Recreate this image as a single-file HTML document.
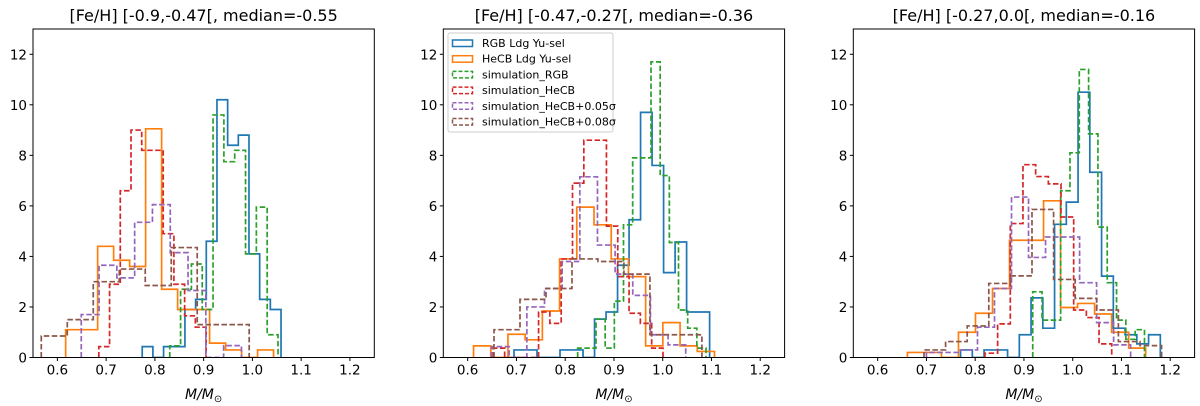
<!DOCTYPE html>
<html><head><meta charset="utf-8">
<style>
body{margin:0;background:#fff;}
svg{display:block;font-family:"DejaVu Sans","Liberation Sans",sans-serif;}
</style></head>
<body>
<svg id="chart" width="1200" height="406" viewBox="0 0 1200 406"></svg>
<script>
// ---- data ----
const titles = ["[Fe/H] [-0.9,-0.47[, median=-0.55","[Fe/H] [-0.47,-0.27[, median=-0.36","[Fe/H] [-0.27,0.0[, median=-0.16"];
const seriesNames = ["RGB Ldg Yu-sel","HeCB Ldg Yu-sel","simulation_RGB","simulation_HeCB","simulation_HeCB+0.05σ","simulation_HeCB+0.08σ"];
const xTicks = [0.6,0.7,0.8,0.9,1.0,1.1,1.2];
const yTicks = [0,2,4,6,8,10,12];
// per panel: bin start, bin width, counts
const p1Starts = [0.774,0.617,0.8305,0.685,0.649,0.567];
const p1Widths = [0.0219,0.0328,0.0222,0.022,0.0365,0.0533];
const p1Blue = [0.43,0,0.43,0.43,1.9,2.3,4.6,10.2,8.4,8.8,4.1,2.3,1.9];
const p1Orange = [1.1,1.1,4.4,3.85,3.6,9.05,2.7,1.9,1.9,0.57,0.3,0,0.3];
const p1Green = [0.46,2.7,3.7,1.9,9.6,7.75,8.2,4.1,5.95,0.9];
const p1Red = [0.43,2.9,6.6,9.0,8.2,8.2,4.9,2.9,1.65,1.2];
const p1Purple = [1.7,3.65,3.15,5.35,6.05,4.15,2.65,0,0.47];
const p1Brown = [0.85,1.5,3.0,3.5,2.85,4.35,1.3,1.3];
const p2Starts = [0.695,0.612,0.8256,0.6526,0.649,0.654];
const p2Widths = [0.0236,0.0353,0.0188,0.0232,0.0362,0.0533];
const p2Blue = [0.3,0.3,0,0,0.3,0.3,0,1.52,1.8,3.65,5.45,9.7,7.6,3.36,4.57,1.8,1.8];
const p2Orange = [0.46,0,0.92,0.7,1.84,3.9,5.95,5.25,3.9,3.2,0.46,1.38,0.46,0.24];
const p2Green = [0.37,0.37,1.52,0.37,2.23,5.25,7.9,7.9,11.7,7.2,4.55,1.88,1.16,0.37];
const p2Red = [0.37,0,0,0,1.8,1.35,3.9,6.9,8.6,8.6,5.2,3.2,1.75,1.35,0.37];
const p2Purple = [0.43,0,2.0,2.73,3.8,7.15,4.45,3.3,2.46,0.9,0.5];
const p2Brown = [1.1,2.3,2.73,3.9,3.8,3.3,0.9,0.9];
const p3Starts = [0.770,0.661,0.918,0.820,0.700,0.695];
const p3Widths = [0.0241,0.0349,0.0191,0.026,0.0349,0.0443];
const p3Blue = [0.3,0,0.3,0.3,0,0.9,2.36,1.16,5.27,6.15,10.5,7.33,3.22,1.16,0.9,0.54,0.9];
const p3Orange = [0.2,0.2,0,1.0,1.75,2.73,4.64,4.64,6.2,1.98,2.14,1.72,1.0,0.37];
const p3Green = [2.6,1.48,1.48,6.6,8.1,11.4,8.85,5.16,2.96,1.48,0.72,1.1];
const p3Red = [0.17,1.33,5.3,7.63,7.16,6.87,5.56,1.88,1.58,0.54];
const p3Purple = [0.2,0.2,0.3,1.2,2.73,6.35,3.96,4.77,4.77,2.96,1.38,0.5];
const p3Brown = [0.3,0.63,1.25,2.93,3.23,5.86,3.09,2.34,1.88,0.63,0.47];

const panels = [
 {starts:p1Starts,widths:p1Widths,counts:[p1Blue,p1Orange,p1Green,p1Red,p1Purple,p1Brown]},
 {starts:p2Starts,widths:p2Widths,counts:[p2Blue,p2Orange,p2Green,p2Red,p2Purple,p2Brown]},
 {starts:p3Starts,widths:p3Widths,counts:[p3Blue,p3Orange,p3Green,p3Red,p3Purple,p3Brown]}
];
const colors = ["#1f77b4","#ff7f0e","#2ca02c","#d62728","#9467bd","#8c564b"];
const dashed = [false,false,true,true,true,true];
const lefts = [33,443.3,853.3];
const W = 341.3, TOP = 29, BOT = 357.5;
const XMIN = 0.55, XMAX = 1.25, YMAX = 13;

const NS = "http://www.w3.org/2000/svg";
const svg = document.getElementById("chart");
function mk(tag, attrs, parent){
  const e = document.createElementNS(NS, tag);
  for (const k in attrs) e.setAttribute(k, attrs[k]);
  (parent||svg).appendChild(e);
  return e;
}

panels.forEach((p, pi) => {
  const L = lefts[pi];
  const xs = v => L + (v - XMIN) / (XMAX - XMIN) * W;
  const ys = c => BOT - c / YMAX * (BOT - TOP);
  const g = mk("g", {});
  
  

  const clip = mk("clipPath", {id:"clip"+pi}, g);
  mk("rect", {x:L, y:TOP, width:W, height:BOT-TOP}, clip);

  p.counts.forEach((vals, si) => {
    const s0 = p.starts[si], w = p.widths[si];
    let d = "M" + xs(s0) + "," + ys(0);
    vals.forEach((c, i) => {
      d += " L" + xs(s0 + i*w) + "," + ys(c) + " L" + xs(s0 + (i+1)*w) + "," + ys(c);
    });
    d += " L" + xs(s0 + vals.length*w) + "," + ys(0);
    const path = mk("path", {d:d, fill:"none", stroke:colors[si], "stroke-width":1.7,
      "stroke-dasharray": dashed[si] ? "5.5,2.5" : "none", "clip-path":"url(#clip"+pi+")"}, g);
    
    
  });

  const fr = mk("rect", {x:L, y:TOP, width:W, height:BOT-TOP, fill:"none", stroke:"#000", "stroke-width":1}, g);
  
  

  xTicks.forEach(t => {
    const x = xs(t);
    mk("line", {x1:x, x2:x, y1:BOT, y2:BOT+3.5, stroke:"#000", "stroke-width":1}, g);
    const tx = mk("text", {x:x, y:BOT+17, "text-anchor":"middle", "font-size":13.5}, g);
    tx.textContent = t.toFixed(1);
    
    
  });
  yTicks.forEach(t => {
    const y = ys(t);
    mk("line", {x1:L-3.5, x2:L, y1:y, y2:y, stroke:"#000", "stroke-width":1}, g);
    const ty = mk("text", {x:L-6, y:y+5, "text-anchor":"end", "font-size":13.5}, g);
    ty.textContent = t;
    
    
  });

  const ti = mk("text", {x:L+W/2, y:21, "text-anchor":"middle", "font-size":16}, g);
  ti.textContent = titles[pi];
  
  

  const xl = mk("text", {x:L+W/2, y:399, "text-anchor":"middle", "font-size":14, "font-style":"italic"}, g);
  xl.innerHTML = 'M/M<tspan font-size="10" dy="3" font-style="normal">⊙</tspan>';
  
  
});

const lg = mk("g", {});


mk("rect", {x:448, y:33, width:165, height:99, rx:2, fill:"#fff", "fill-opacity":0.85, stroke:"#ccc", "stroke-width":1}, lg);
seriesNames.forEach((n, i) => {
  const y = 43 + i*15.7;
  const e = mk("g", {}, lg);
  
  
  mk("rect", {x:452.5, y:y-3, width:20, height:6.5, fill:"none", stroke:colors[i], "stroke-width":1.5,
    "stroke-dasharray": dashed[i] ? "4,2" : "none"}, e);
  const t = mk("text", {x:482, y:y+4, "font-size":11}, e);
  t.textContent = n;
});
</script>
</body></html>
